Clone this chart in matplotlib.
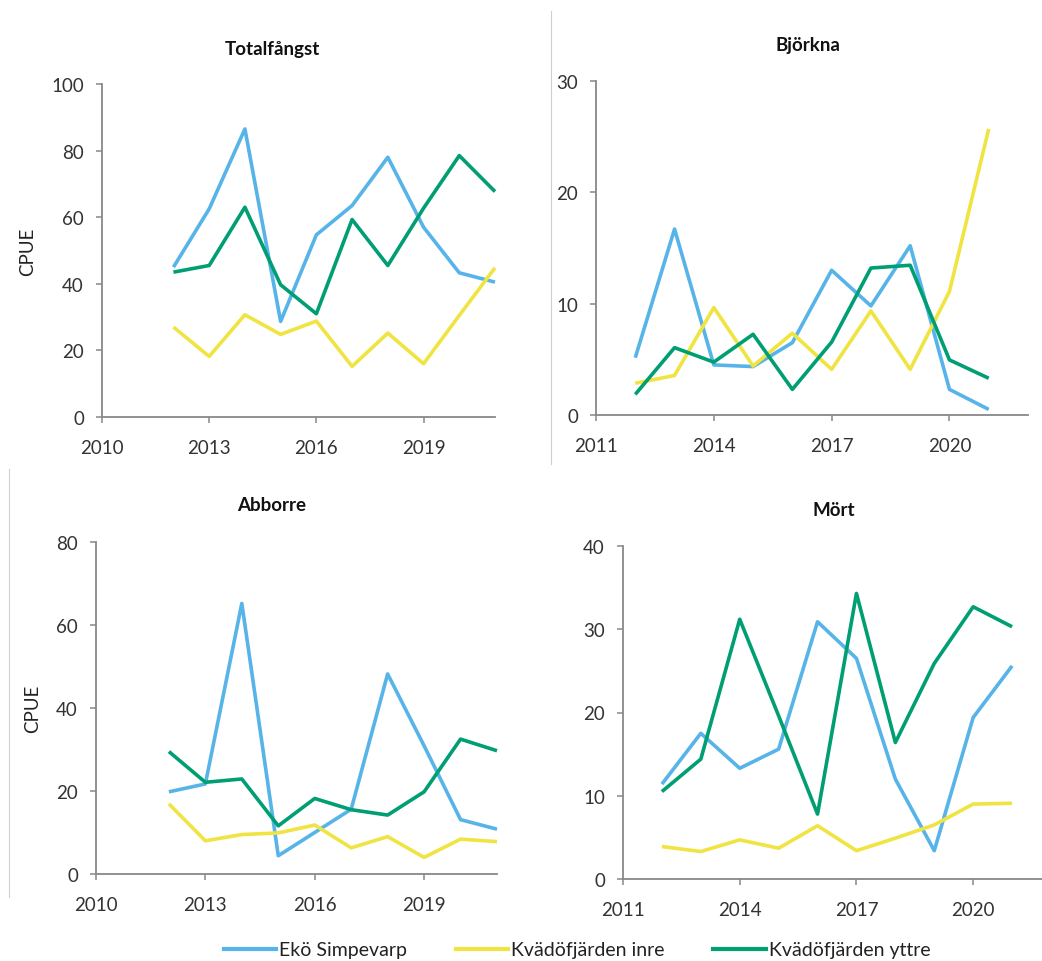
import matplotlib.pyplot as plt
from matplotlib.lines import Line2D

plt.rcParams['font.family'] = ['Lato', 'DejaVu Sans']

years = list(range(2012, 2022))

# Totalfångst
tot_eko = [45, 62.5, 86.5, 28.7, 54.7, 63.5, 78, 57, 43.3, 40.5]
tot_inre = [27, 18.2, 30.7, 24.8, 28.8, 15.2, 25.2, 16, 30.5, 44.8]
tot_yttre = [43.5, 45.5, 63, 39.7, 31, 59.3, 45.5, 62.7, 78.5, 67.7]

# Björkna
bjo_eko = [5.15, 16.7, 4.5, 4.35, 6.5, 13.0, 9.8, 15.2, 2.3, 0.5]
bjo_inre = [2.85, 3.55, 9.65, 4.4, 7.35, 4.1, 9.35, 4.1, 11.1, 25.7]
bjo_yttre = [1.85, 6.05, 4.75, 7.25, 2.3, 6.55, 13.2, 13.45, 4.95, 3.3]

# Abborre
abb_eko = [19.8, 21.7, 65.2, 4.4, 10.0, 15.6, 48.2, 30.9, 13.1, 10.8]
abb_inre = [16.9, 8.0, 9.5, 9.9, 11.8, 6.3, 9.0, 4.0, 8.4, 7.8]
abb_yttre = [29.5, 22.1, 22.9, 11.6, 18.2, 15.5, 14.2, 19.8, 32.5, 29.7]

# Mört
mor_eko = [11.4, 17.5, 13.3, 15.6, 30.9, 26.5, 12.0, 3.4, 19.4, 25.6]
mor_inre = [3.9, 3.3, 4.7, 3.7, 6.4, 3.4, 4.9, 6.5, 9.0, 9.1]
mor_yttre = [10.5, 14.4, 31.2, 19.6, 7.8, 34.3, 16.4, 25.9, 32.7, 30.3]

series_names = ['Ekö Simpevarp', 'Kvädöfjärden inre', 'Kvädöfjärden yttre']
colors = ['#56B4E9', '#F0E442', '#009E73']

W, H = 1042, 962
fig = plt.figure(figsize=(W / 100, H / 100), dpi=100)


def px_axes(left, right, top, bottom):
    return fig.add_axes([left / W, 1 - bottom / H, (right - left) / W, (bottom - top) / H])


panels = [
    # title, data, xlim, xticks, ylim, yticks, rect(px), title pos, ylabel
    ('Totalfångst', [tot_eko, tot_inre, tot_yttre], (2010, 2021), [2010, 2013, 2016, 2019],
     (0, 100), range(0, 101, 20), (102, 495, 85, 418), (272, 50), True),
    ('Björkna', [bjo_eko, bjo_inre, bjo_yttre], (2011, 2022), [2011, 2014, 2017, 2020],
     (0, 30), range(0, 31, 10), (596, 1028, 82, 416), (808, 46), False),
    ('Abborre', [abb_eko, abb_inre, abb_yttre], (2010, 2021), [2010, 2013, 2016, 2019],
     (0, 80), range(0, 81, 20), (96, 497, 543, 875), (272, 506), True),
    ('Mört', [mor_eko, mor_inre, mor_yttre], (2011, 2022), [2011, 2014, 2017, 2020],
     (0, 40), range(0, 41, 10), (623, 1051, 547, 880), (834, 511), False),
]

for title, data, xlim, xticks, ylim, yticks, rect, tpos, ylab in panels:
    ax = px_axes(*rect)
    for vals, c in zip(data, colors):
        ax.plot(years, vals, color=c, linewidth=2.6, solid_capstyle='butt', clip_on=False)
    ax.set_xlim(*xlim)
    ax.set_ylim(*ylim)
    ax.set_xticks(xticks)
    ax.set_yticks(list(yticks))
    for s in ['top', 'right']:
        ax.spines[s].set_visible(False)
    for s in ['left', 'bottom']:
        ax.spines[s].set_color('#888888')
        ax.spines[s].set_linewidth(1.3)
    ax.tick_params(axis='both', direction='out', length=4, width=1.1, color='#888888',
                   labelsize=13.5, labelcolor='#333333')
    ax.tick_params(axis='x', pad=12)
    ax.tick_params(axis='y', pad=9)
    ax.patch.set_alpha(0)
    fig.text(tpos[0] / W, 1 - tpos[1] / H, title, ha='center', va='center',
             fontsize=13.5, fontweight='bold', color='#111111')
    if ylab:
        ax.set_ylabel('CPUE', fontsize=13.5, color='#222222', labelpad=11)

# thin frame edges left over from the pasted panels
fig.add_artist(Line2D([551 / W, 551 / W], [1 - 12 / H, 1 - 465 / H], color='#d0d0d0', linewidth=0.8))
fig.add_artist(Line2D([9 / W, 9 / W], [1 - 470 / H, 1 - 898 / H], color='#d0d0d0', linewidth=0.8))

handles = [Line2D([], [], color=c, linewidth=3) for c in colors]
fig.legend(handles, series_names, loc='center', bbox_to_anchor=(577 / W, 1 - 951 / H), ncol=3,
           frameon=False, fontsize=14, handlelength=2.7, handletextpad=0.15, columnspacing=2.5,
           labelcolor='#222222')

fig.savefig('out.png', dpi=100)
